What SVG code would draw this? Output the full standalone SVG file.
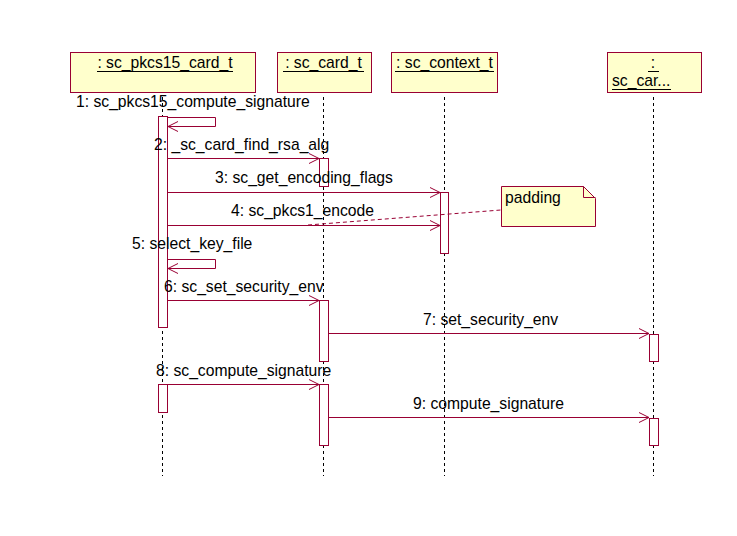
<svg xmlns="http://www.w3.org/2000/svg" width="737" height="536" viewBox="0 0 737 536">
<defs>
<marker id="arr" markerUnits="userSpaceOnUse" markerWidth="14" markerHeight="12" refX="11" refY="6" orient="auto">
<path d="M1,1 L11,6 L1,11" fill="none" stroke="#990033" stroke-width="1"/>
</marker>
<style>
.obj{fill:#FFFFCC;stroke:#990033;stroke-width:1}
.act{fill:#FFFFFF;stroke:#990033;stroke-width:1}
.life{stroke:#000;stroke-width:1;stroke-dasharray:3,3;fill:none}
.msg{stroke:#990033;stroke-width:1;fill:none;marker-end:url(#arr)}
.ul{stroke:#000;stroke-width:1}
text{font-family:"Liberation Sans",Arial,sans-serif;font-size:15.7px;fill:#000}
.c{text-anchor:middle}
</style>
</defs>
<rect width="737" height="536" fill="#FFFFFF"/>
<g id="lifelines">
<line class="life" x1="162.5" y1="97" x2="162.5" y2="476"/>
<line class="life" x1="323.5" y1="97" x2="323.5" y2="476"/>
<line class="life" x1="444.5" y1="97" x2="444.5" y2="476"/>
<line class="life" x1="653.5" y1="97" x2="653.5" y2="476"/>
</g>
<g id="obj1">
<rect class="obj" x="70.5" y="52.5" width="185" height="40"/>
<text class="c" x="165" y="68">: sc_pkcs15_card_t</text>
<line class="ul" x1="97" y1="71.5" x2="233" y2="71.5"/>
</g>
<g id="obj2">
<rect class="obj" x="277.5" y="52.5" width="94" height="40"/>
<text class="c" x="323.5" y="68">: sc_card_t</text>
<line class="ul" x1="283" y1="71.5" x2="364" y2="71.5"/>
</g>
<g id="obj3">
<rect class="obj" x="391.5" y="52.5" width="106" height="40"/>
<text class="c" x="444.5" y="68">: sc_context_t</text>
<line class="ul" x1="395" y1="71.5" x2="494" y2="71.5"/>
</g>
<g id="obj4">
<rect class="obj" x="607.5" y="52.5" width="94" height="40"/>
<text class="c" x="653" y="68">:</text>
<line class="ul" x1="648" y1="71.5" x2="659" y2="71.5"/>
<text x="612" y="86">sc_car...</text>
<line class="ul" x1="612" y1="89.5" x2="671" y2="89.5"/>
</g>
<g id="activations">
<rect class="act" x="158.5" y="116.5" width="9" height="211"/>
<rect class="act" x="319.5" y="158.5" width="9" height="28"/>
<rect class="act" x="440.5" y="192.5" width="8" height="61"/>
<rect class="act" x="319.5" y="300.5" width="9" height="61"/>
<rect class="act" x="649.5" y="334.5" width="9" height="27"/>
<rect class="act" x="158.5" y="384.5" width="9" height="28"/>
<rect class="act" x="319.5" y="384.5" width="9" height="61"/>
<rect class="act" x="649.5" y="418.5" width="9" height="27"/>
</g>
<g id="connectors">
<path class="msg" d="M167.5,117.5 H215.5 V126.5 H168"/>
<line class="msg" x1="167.5" y1="158.5" x2="319" y2="158.5"/>
<line class="msg" x1="167.5" y1="192.5" x2="440" y2="192.5"/>
<line class="msg" x1="167.5" y1="225.5" x2="440" y2="225.5"/>
<path class="msg" d="M167.5,259.5 H215.5 V268.5 H168"/>
<line class="msg" x1="167.5" y1="300.5" x2="319" y2="300.5"/>
<line class="msg" x1="328.5" y1="333.5" x2="649" y2="333.5"/>
<line class="msg" x1="167.5" y1="384.5" x2="319" y2="384.5"/>
<line class="msg" x1="328.5" y1="417.5" x2="649" y2="417.5"/>
<line x1="308" y1="225" x2="501" y2="210" stroke="#990033" stroke-width="1" stroke-dasharray="4,3"/>
</g>
<g id="labels">
<text x="76" y="107">1: sc_pkcs15_compute_signature</text>
<text x="154" y="150">2: _sc_card_find_rsa_alg</text>
<text x="215" y="183">3: sc_get_encoding_flags</text>
<text x="231" y="216">4: sc_pkcs1_encode</text>
<text x="132" y="249">5: select_key_file</text>
<text x="164" y="292">6: sc_set_security_env</text>
<text x="423" y="325">7: set_security_env</text>
<text x="156" y="376">8: sc_compute_signature</text>
<text x="413" y="409">9: compute_signature</text>
</g>
<g id="note">
<path d="M501.5,186.5 H583.5 L595.5,198.5 V226.5 H501.5 Z" fill="#FFFFCC" stroke="#990033" stroke-width="1"/>
<path d="M583.5,186.5 V197.5 H595.5" fill="none" stroke="#990033" stroke-width="1"/>
<text x="505" y="203">padding</text>
</g>
</svg>
